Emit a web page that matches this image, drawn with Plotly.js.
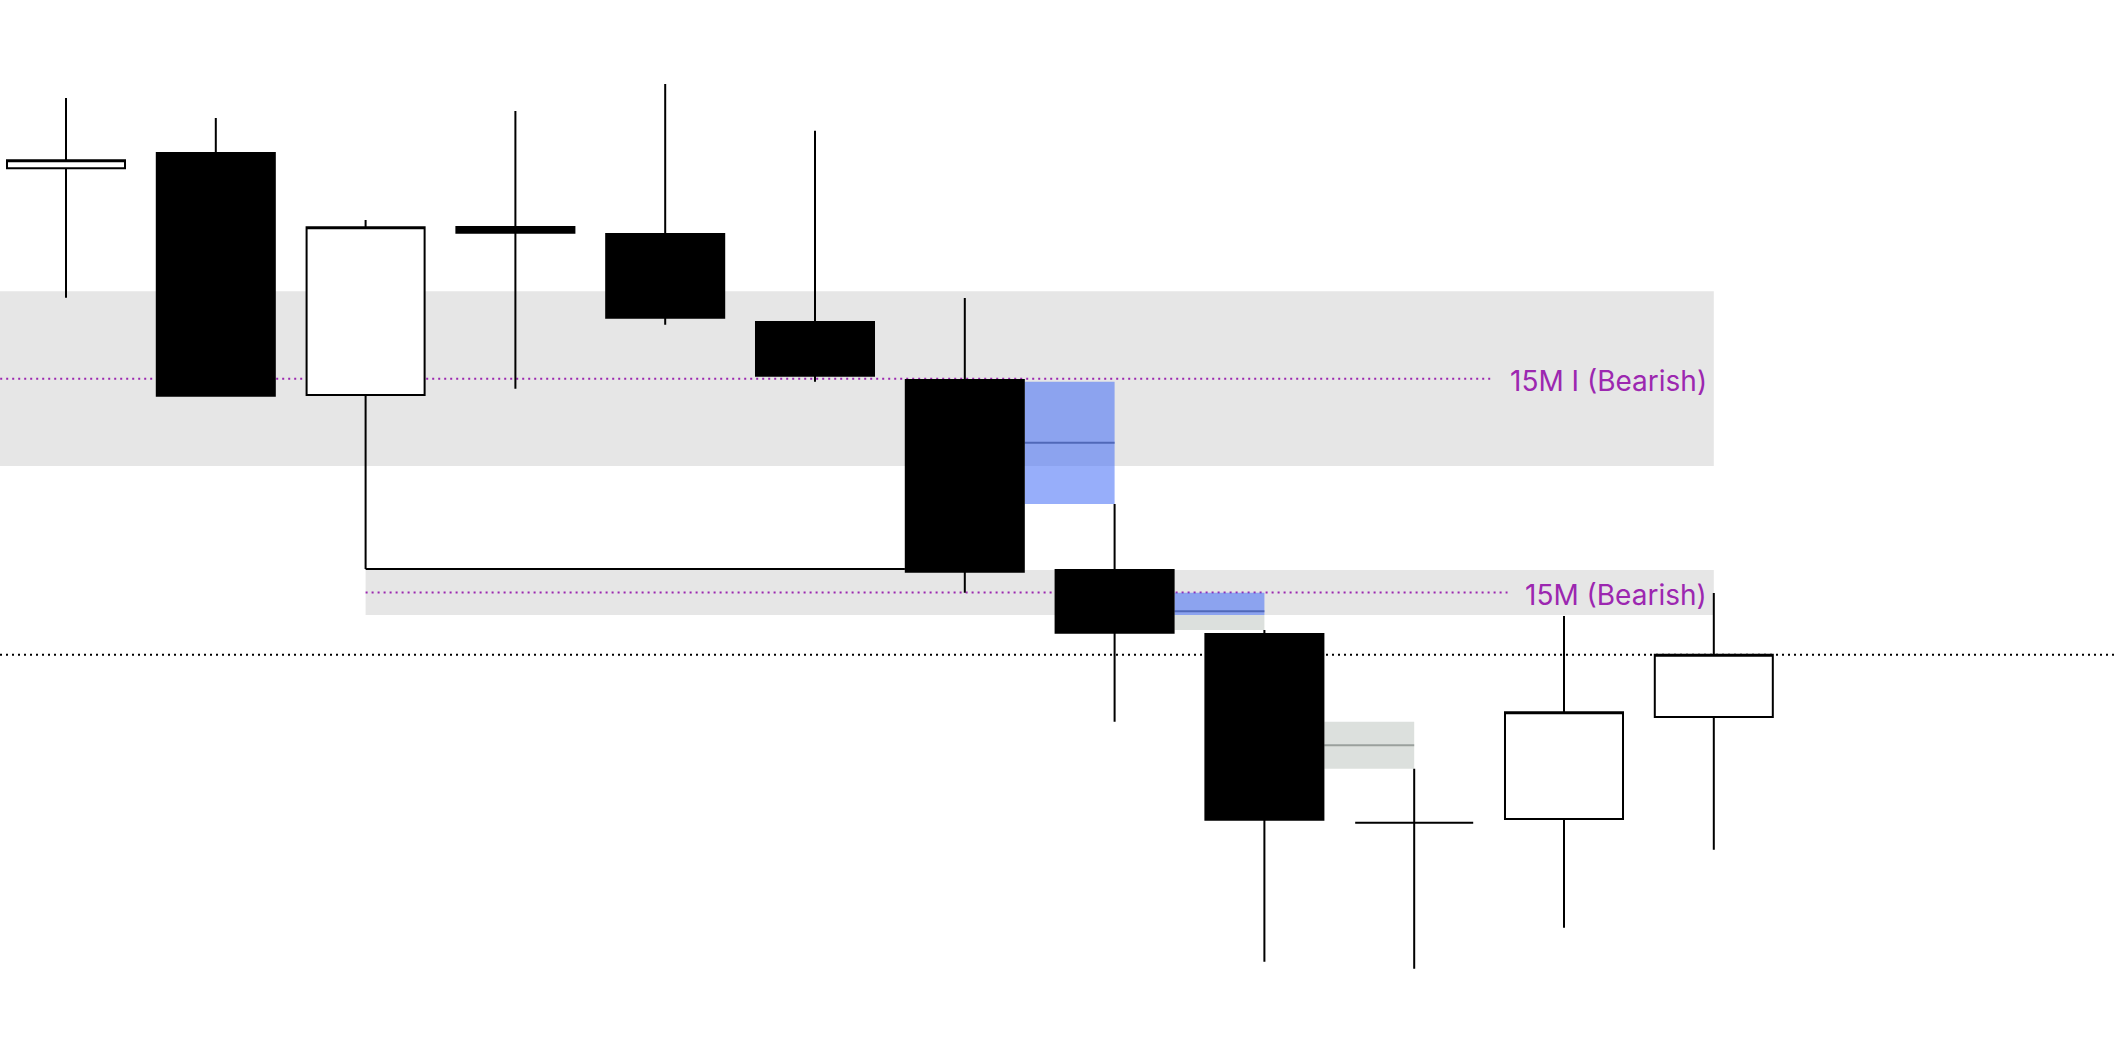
<!DOCTYPE html>
<html>
<head>
<meta charset="utf-8">
<script src="https://cdn.plot.ly/plotly-3.0.1.min.js"></script>
<style>
  html, body { margin: 0; padding: 0; background: #ffffff; }
  #chart { width: 2114px; height: 1044px; }
</style>
</head>
<body>
<div id="chart"></div>
<script>
// ---- candle data (bar index, OHLC) ----
const bars   = [0, 1, 2, 3, 4, 5, 6, 7, 8, 9, 10, 11];
const opens  = [2387.57, 2389.10, 2364.90, 2381.70, 2381.00, 2372.20, 2366.40, 2347.40, 2341.00, 2322.13, 2322.50, 2332.70];
const highs  = [2394.60, 2392.60, 2382.40, 2393.30, 2396.00, 2391.32, 2374.60, 2354.00, 2341.40, 2327.53, 2342.80, 2345.10];
const lows   = [2374.63, 2364.83, 2347.50, 2365.53, 2371.93, 2366.23, 2345.13, 2332.23, 2308.23, 2307.53, 2311.63, 2319.43];
const closes = [2388.37, 2364.83, 2381.67, 2381.13, 2372.63, 2366.83, 2347.23, 2341.13, 2322.43, 2322.13, 2333.17, 2338.92];

// ---- zones ----
const zoneLabels  = ["15M I (Bearish)", "15M (Bearish)"];
const zoneStart   = [-1, 2];
const zoneEnd     = [11, 11];
const zoneTop     = [2375.27, 2347.40];
const zoneBottom  = [2357.80, 2342.90];
const zoneLineEnd = [9.522, 9.623];
const zoneLabelX  = 10.965;

// ---- fair value gaps: first bar index of the 3-bar pattern ----
const fvgFirstBar = [5, 6, 7];
const fvgStyle    = ["blue", "split", "grey"];

// ---- liquidity line from bar 2 low to bar 6 body ----
const sweepFromBar = 2;
const sweepToBar = 6;

// ---- current price line ----
const lastPrice = closes[closes.length - 1];

const BODY_HALF = 0.3939;
const SPACING_PX = 149.8;
const FIRST_PX = 66;
const BLUE = "rgba(69,110,246,0.56)";
const BLUE_MID = "#5068b8";
const GREY = "#dce0dd";
const GREY_MID = "#9aa09c";
const PURPLE = "#9c27b0";

const shapes = [];
for (let i = 0; i < zoneLabels.length; i++) {
  shapes.push({type: "rect", layer: "below", xref: "x", yref: "y",
    x0: zoneStart[i], x1: zoneEnd[i], y0: zoneBottom[i], y1: zoneTop[i],
    fillcolor: "#e6e6e6", line: {width: 0}});
}
for (let i = 0; i < zoneLabels.length; i++) {
  const mid = (zoneTop[i] + zoneBottom[i]) / 2;
  shapes.push({type: "line", layer: "below", xref: "x", yref: "y",
    x0: zoneStart[i], x1: zoneLineEnd[i], y0: mid, y1: mid,
    line: {color: PURPLE, width: 2, dash: "2px,4px"}});
}
shapes.push({type: "line", layer: "below", xref: "paper", yref: "y",
  x0: 0, x1: 1, y0: lastPrice, y1: lastPrice,
  line: {color: "#000000", width: 2, dash: "2px,4px"}});
shapes.push({type: "line", layer: "below", xref: "x", yref: "y",
  x0: bars[sweepFromBar], x1: bars[sweepToBar] - BODY_HALF - 0.006,
  y0: lows[sweepFromBar], y1: lows[sweepFromBar],
  line: {color: "#000000", width: 2}});
for (let k = 0; k < fvgFirstBar.length; k++) {
  const a = fvgFirstBar[k];
  const top = lows[a];
  const bottom = highs[a + 2];
  const x0 = bars[a + 1] + BODY_HALF + 0.006;
  const x1 = bars[a + 2];
  const mid = (top + bottom) / 2;
  if (fvgStyle[k] === "blue") {
    shapes.push({type: "rect", layer: "below", xref: "x", yref: "y",
      x0: x0, x1: x1, y0: bottom, y1: top, fillcolor: BLUE, line: {width: 0}});
    shapes.push({type: "line", layer: "below", xref: "x", yref: "y",
      x0: x0, x1: x1, y0: mid, y1: mid, line: {color: BLUE_MID, width: 2}});
  } else if (fvgStyle[k] === "split") {
    const split = zoneBottom[1];
    shapes.push({type: "rect", layer: "below", xref: "x", yref: "y",
      x0: x0, x1: x1, y0: bottom, y1: split, fillcolor: GREY, line: {width: 0}});
    shapes.push({type: "rect", layer: "below", xref: "x", yref: "y",
      x0: x0, x1: x1, y0: split, y1: top, fillcolor: BLUE, line: {width: 0}});
    shapes.push({type: "line", layer: "below", xref: "x", yref: "y",
      x0: x0, x1: x1, y0: mid, y1: mid, line: {color: BLUE_MID, width: 2}});
  } else {
    shapes.push({type: "rect", layer: "below", xref: "x", yref: "y",
      x0: x0, x1: x1, y0: bottom, y1: top, fillcolor: GREY, line: {width: 0}});
    shapes.push({type: "line", layer: "below", xref: "x", yref: "y",
      x0: x0, x1: x1, y0: mid, y1: mid, line: {color: GREY_MID, width: 2}});
  }
}

const annotations = zoneLabels.map((t, i) => ({
  xref: "x", yref: "y", x: zoneLabelX, y: (zoneTop[i] + zoneBottom[i]) / 2,
  xanchor: "right", yanchor: "middle", yshift: -2, showarrow: false, text: t,
  font: {family: "Inter, Roboto, sans-serif", size: 28, color: PURPLE}
}));

const trace = {
  type: "candlestick",
  x: bars, open: opens, high: highs, low: lows, close: closes,
  whiskerwidth: 0,
  increasing: {line: {color: "#000000", width: 2}, fillcolor: "#ffffff"},
  decreasing: {line: {color: "#000000", width: 2}, fillcolor: "#000000"},
  hoverinfo: "skip"
};

const layout = {
  width: 2114, height: 1044,
  margin: {l: 0, r: 0, t: 0, b: 0, pad: 0},
  paper_bgcolor: "#ffffff", plot_bgcolor: "rgba(0,0,0,0)",
  showlegend: false,
  boxgap: 1 - 2 * BODY_HALF, boxgroupgap: 0,
  xaxis: {range: [-FIRST_PX / SPACING_PX, (2114 - FIRST_PX) / SPACING_PX], visible: false,
          fixedrange: true, rangeslider: {visible: false}},
  yaxis: {range: [2300, 2404.4], visible: false, fixedrange: true},
  shapes: shapes,
  annotations: annotations
};

Plotly.newPlot("chart", [trace], layout, {staticPlot: true, displayModeBar: false});
</script>
</body>
</html>
